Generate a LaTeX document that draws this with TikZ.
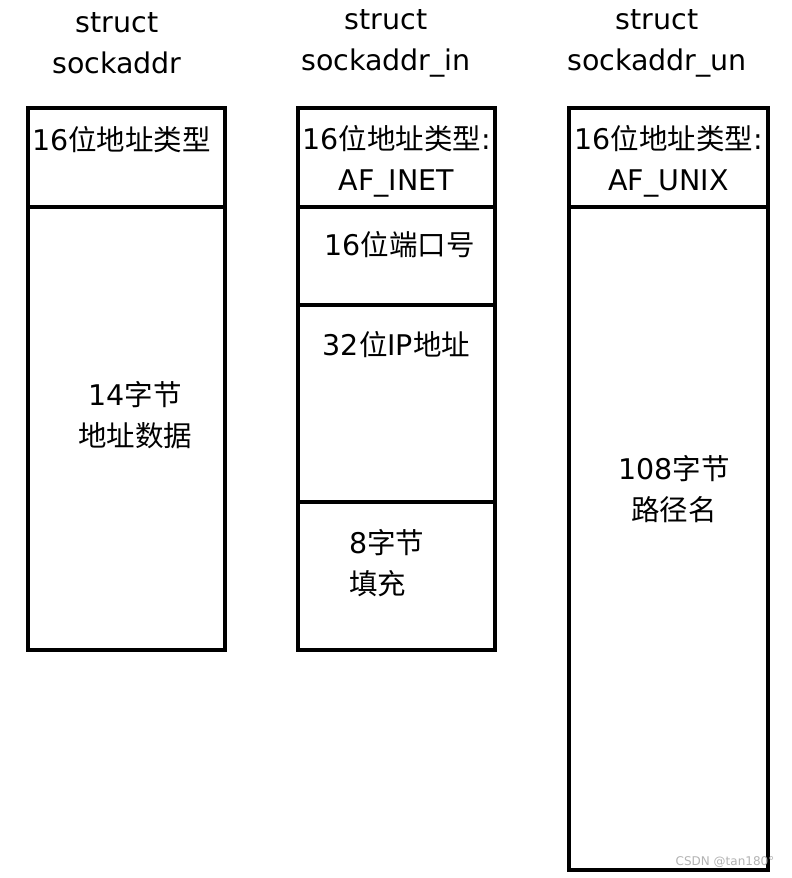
\documentclass[tikz,border=0pt]{standalone}
\usepackage{fontspec}
\setmainfont{DejaVu Sans}
\newfontfamily\cjk{Noto Sans CJK SC}
\usetikzlibrary{positioning}

\tikzset{
  field/.style={rectangle, draw, line width=3.2pt, inner sep=0pt},
  txt/.style={font=\fontsize{28.5}{41}\selectfont, align=center, inner sep=0pt}
}

\begin{document}
\begin{tikzpicture}[x=1pt, y=-1pt]
        \useasboundingbox (0,0) rectangle (792,878);
        % struct sockaddr
        \node[txt] (TitleAddr) at (117,43) {struct\\sockaddr};
        \node[field, minimum width=197pt, minimum height=99pt] (AddrType) at (126.5,157.5) { };
        \node[field, minimum width=197pt, minimum height=443pt] (AddrData) at (126.5,428.5) { };
        \node[txt] at ([xshift=-5pt, yshift=-33pt] AddrType.north) {16{\cjk 位地址类型}};
        \node[txt] at (135,415) {14{\cjk 字节}\\{\cjk 地址数据}};
        % struct sockaddr_in
        \node[txt] (TitleIn) at (386,43) {struct\\sockaddr\_in};
        \node[field, minimum width=197pt, minimum height=99pt] (InetType) at (396.5,157.5) { };
        \node[field, minimum width=197pt, minimum height=98pt] (Port) at (396.5,256) { };
        \node[field, minimum width=197pt, minimum height=197pt] (IpAddr) at (396.5,403.5) { };
        \node[field, minimum width=197pt, minimum height=148pt] (Pad) at (396.5,576) { };
        \node[txt] at ([yshift=-4pt] InetType) {16{\cjk 位地址类型}:\\AF\_INET};
        \node[txt] at ([xshift=3pt, yshift=-39pt] Port.north) {16{\cjk 位端口号}};
        \node[txt] at ([yshift=-41pt] IpAddr.north) {32{\cjk 位}IP{\cjk 地址}};
        \node[txt, align=left, anchor=west] at (349,563) {8{\cjk 字节}\\{\cjk 填充}};
        % struct sockaddr_un
        \node[txt] (TitleUn) at (657,43) {struct\\sockaddr\_un};
        \node[field, minimum width=199pt, minimum height=99pt] (UnixType) at (668.5,157.5) { };
        \node[field, minimum width=199pt, minimum height=663pt] (Path) at (668.5,538.5) { };
        \node[txt] at ([yshift=-4pt] UnixType) {16{\cjk 位地址类型}:\\AF\_UNIX};
        \node[txt] at (674,489) {108{\cjk 字节}\\{\cjk 路径名}};
        % watermark
        \node[font=\fontsize{12}{12}\selectfont, text=black!30, inner sep=0pt] (Mark) at (725,862) {CSDN @tan180°};
    \end{tikzpicture}
\end{document}
